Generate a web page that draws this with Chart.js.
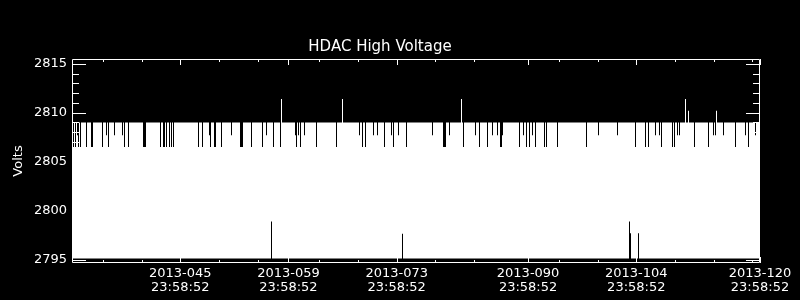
<!DOCTYPE html>
<html>
<head>
<meta charset="utf-8">
<title>HDAC High Voltage</title>
<script src="https://cdn.jsdelivr.net/npm/chart.js@4.4.1/dist/chart.umd.min.js"></script>
<style>
  html, body { margin:0; padding:0; background:#000; }
  #wrap { width:800px; height:300px; }
</style>
</head>
<body>
<div id="wrap"><canvas id="chartHv" width="800" height="300"></canvas></div>
<script>
// eje x: día del año 2013, las marcas caen a las 23:58:52
const dayStart = 31;
const dayEnd = 120;
const tickDays = [45, 59, 73, 90, 104, 120];
const minorDays = [35, 40, 50, 55, 63, 68, 78, 83, 94, 99, 109, 114, 119];
const timeOfDay = '23:58:52';
const voltTicks = [2795, 2800, 2805, 2810, 2815];

// envolvente normal de la señal (mínimo / máximo)
const lowLevel = 2795.13;
const highLevel = 2809.0;

// días donde el máximo baja a 2806.5
const dropDays = [31.17, 31.48, 31.78, 32.16, 32.88, 33.52, 33.65, 35.01, 35.75, 37.77, 38.33,
  40.31, 40.44, 40.57, 42.51, 42.90, 43.03, 43.16, 43.55, 43.81, 44.07, 47.30, 47.82, 48.98,
  49.43, 49.56, 50.40, 52.86, 52.99, 53.12, 54.25, 55.67, 57.13, 58.00, 59.98, 60.53, 62.60,
  65.19, 68.55, 68.99, 71.40, 72.62, 74.25, 79.06, 79.19, 79.32, 81.62, 83.69, 84.78, 86.43,
  86.56, 88.95, 89.82, 90.16, 90.96, 92.12, 92.32, 93.80, 97.53, 103.83, 105.21, 105.62,
  107.23, 108.68, 109.00, 111.50, 113.40, 116.81, 118.45];
const dropLevel = 2806.5;

// días donde el máximo baja sólo a 2807.7
const shortDropDays = [31.65, 35.46, 36.56, 37.56, 48.85, 51.57, 56.10, 59.89, 60.27, 61.14,
  68.13, 69.94, 70.46, 72.36, 73.30, 77.57, 79.81, 83.17, 85.42, 86.02, 86.72, 89.38, 90.57,
  99.17, 101.63, 106.48, 107.00, 109.30, 109.65, 113.96, 114.18, 115.25, 118.06, 119.42];
const shortDropLevel = 2807.7;

// picos hacia arriba
const spikeDays = [58.13, 65.97, 81.36, 110.40, 110.73, 114.35];
const spikeVolts = [2811.4, 2811.4, 2811.4, 2811.4, 2810.2, 2810.2];

// mínimos que no llegan abajo
const dipDays = [56.78, 73.73, 103.09, 103.22, 104.26];
const dipVolts = [2798.9, 2797.65, 2798.9, 2797.7, 2797.7];

// una barra flotante [min, max] por columna
const nCols = 688;
const span = dayEnd - dayStart;
const cols = [];
for (let i = 0; i < nCols; i++) {
  cols.push({ x: dayStart + (i + 0.5) * span / nCols, lo: lowLevel, hi: highLevel });
}
const colOf = d => Math.min(nCols - 1, Math.max(0, Math.floor((d - dayStart) / span * nCols)));
dropDays.forEach(d => { const c = cols[colOf(d)]; c.hi = Math.min(c.hi, dropLevel); });
shortDropDays.forEach(d => { const c = cols[colOf(d)]; c.hi = Math.min(c.hi, shortDropLevel); });
spikeDays.forEach((d, k) => { cols[colOf(d)].hi = spikeVolts[k]; });
dipDays.forEach((d, k) => { cols[colOf(d)].lo = dipVolts[k]; });
const barData = cols.map(c => ({ x: c.x, y: [c.lo, c.hi] }));

const font13 = { family: 'DejaVu Sans', size: 13, lineHeight: 1.12 };

// marco y marcas de los ejes (estilo IDL)
const frame = {
  id: 'frame',
  afterDraw(chart) {
    const { ctx, chartArea: a, scales: { x, y } } = chart;
    ctx.save();
    ctx.strokeStyle = '#fff';
    ctx.lineWidth = 1;
    ctx.beginPath();
    ctx.rect(a.left + 0.5, a.top + 0.5, a.right - a.left - 1, a.bottom - a.top - 1);
    for (let v = voltTicks[0]; v <= voltTicks[voltTicks.length - 1]; v++) {
      const py = Math.round(y.getPixelForValue(v)) + 0.5;
      const len = voltTicks.includes(v) ? 14 : 7;
      ctx.moveTo(a.left, py); ctx.lineTo(a.left + len, py);
      ctx.moveTo(a.right, py); ctx.lineTo(a.right - len, py);
    }
    const xt = (list, len) => list.forEach(d => {
      const px = Math.round(x.getPixelForValue(d)) + 0.5;
      ctx.moveTo(px, a.bottom); ctx.lineTo(px, a.bottom - len);
      ctx.moveTo(px, a.top); ctx.lineTo(px, a.top + len);
    });
    xt(tickDays, 6);
    xt(minorDays, 3);
    ctx.stroke();
    ctx.restore();
  }
};

new Chart(document.getElementById('chartHv').getContext('2d'), {
  type: 'bar',
  data: {
    datasets: [{
      data: barData,
      backgroundColor: '#fff',
      borderWidth: 0,
      inflateAmount: 0,
      barPercentage: 1,
      categoryPercentage: 1,
      grouped: false
    }]
  },
  options: {
    responsive: false,
    animation: false,
    layout: { padding: { left: 0, right: 40, top: 0, bottom: 0 } },
    plugins: {
      legend: { display: false },
      tooltip: { enabled: false },
      title: {
        display: true, text: 'HDAC High Voltage', color: '#fff',
        font: { family: 'DejaVu Sans', size: 15, weight: 'normal' },
        padding: { top: 38, bottom: 3 }
      }
    },
    scales: {
      x: {
        type: 'linear', min: dayStart, max: dayEnd, offset: false,
        grid: { display: false, drawTicks: false, offset: false },
        border: { display: false },
        afterBuildTicks: s => { s.ticks = tickDays.map(v => ({ value: v })); },
        afterFit: s => { s.height = 37; },
        ticks: {
          autoSkip: false, maxRotation: 0, padding: 3, color: '#fff', font: font13,
          callback: v => ['2013-' + String(v).padStart(3, '0'), timeOfDay]
        }
      },
      y: {
        min: 2794.66, max: 2815.48,
        grid: { display: false, drawTicks: false },
        border: { display: false },
        afterBuildTicks: s => { s.ticks = voltTicks.map(v => ({ value: v })); },
        afterFit: s => { s.width = 72; },
        title: {
          display: true, text: 'Volts', color: '#fff', font: font13,
          padding: { top: 11, bottom: 0 }
        },
        ticks: { padding: 5, color: '#fff', font: font13, callback: v => String(v) }
      }
    }
  },
  plugins: [frame]
});
</script>
</body>
</html>
